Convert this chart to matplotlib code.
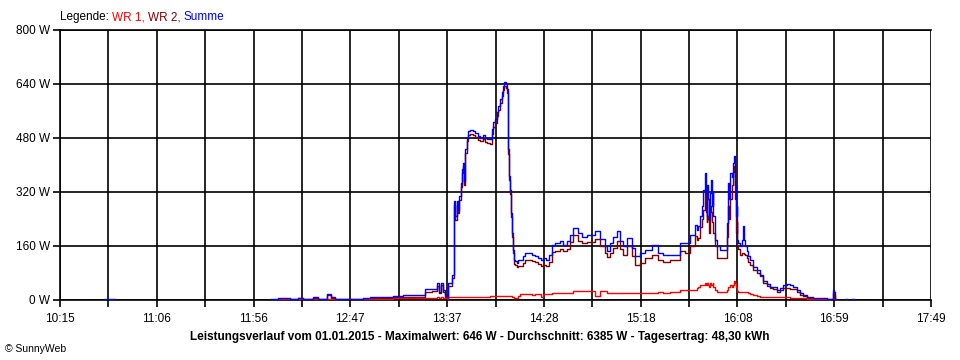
import numpy as np
import matplotlib
matplotlib.use("Agg")
import matplotlib.pyplot as plt

nan = float("nan")

# time in minutes since midnight
times = [638.5, 643.7, 643.8,
         725.0, 728.6, 734.9, 739.1, 741.7, 746.9, 749.5, 754.2, 756.3, 758.3,
         766.2, 772.9, 776.6, 781.8, 788.6, 793.8, 799.0, 802.6, 805.3, 808.9,
         811.5, 812.6, 813.6, 814.6, 815.7, 816.7, 817.5, 819.3, 820.4, 820.9,
         821.8, 822.6, 823.1, 823.9, 824.4, 825.2, 825.6, 826.1, 827.0, 827.8,
         828.7, 830.4, 831.3, 833.0, 833.9, 835.6, 836.5, 837.4, 839.1, 840.0,
         840.9, 841.7, 842.6, 843.5, 844.3, 845.2, 846.1, 846.6, 847.3, 847.8,
         848.4, 848.7, 849.2, 849.6, 850.1, 850.6, 851.3, 851.6, 852.2, 853.0,
         853.7, 854.8, 856.3, 857.4, 858.9, 861.0, 862.6, 864.2, 865.7, 866.8,
         868.3, 869.9, 871.5, 873.0, 875.6, 877.2, 879.3, 880.8, 882.4, 885.0,
         887.1, 889.7, 893.9, 896.5, 899.1, 900.1, 901.7, 903.2, 905.3, 906.9,
         908.5, 910.5, 913.2, 914.7, 917.3, 919.9, 923.6, 926.7, 929.3, 933.0,
         938.2, 940.8, 943.4, 946.0, 947.0, 947.7, 948.6, 949.5, 950.3, 951.2,
         951.7, 952.1, 952.4, 952.9, 953.4, 953.8, 954.3, 954.7, 955.2, 955.5,
         956.4, 957.3, 959.0, 961.6, 962.5, 963.3, 963.9, 964.2, 965.1, 965.6,
         966.3, 966.8, 967.4, 967.7, 968.0, 968.6, 969.4, 970.3, 971.2, 971.7,
         972.1, 972.9, 973.8, 974.7, 976.4, 978.2, 979.9, 981.6, 983.4, 985.1,
         986.8, 988.6, 990.3, 992.0, 993.8, 995.5, 997.2, 999.0, 1000.7, 1002.4,
         1004.2, 1005.9, 1007.7, 1011.1, 1014.6, 1017.4, 1017.9, 1018.4, 1019.0,
         1019.5, 1019.6,
         1024.0, 1025.0, 1025.1, 1028.0, 1029.0, 1029.1]

summe = [2, 2, nan,
         2, 5, 3, 7, 4, 8, 3, 18, 8, 4,
         3, 5, 10, 8, 13, 14, 16, 14, 32, 33,
         50, 25, 50, 30, 15, 8, 50, 74, 293, 248,
         293, 268, 307, 347, 387, 407, 352, 446, 481, 501,
         503, 500, 496, 485, 481, 490, 481, 476, 476, 506,
         526, 536, 556, 575, 595, 615, 635, 646, 640, 625,
         566, 446, 367, 327, 258, 198, 149, 119, 115, 109,
         119, 119, 129, 139, 139, 134, 129, 124, 119, 124,
         119, 134, 164, 169, 174, 164, 174, 194, 213, 198,
         188, 193, 203, 180, 159, 144, 169, 188, 203, 174,
         159, 184, 154, 129, 139, 149, 164, 139, 134, 134,
         169, 169, 194, 223, 208, 218, 248, 278, 327, 377,
         318, 248, 340, 298, 238, 318, 357, 278, 320, 248,
         179, 159, 149, 149, 228, 347, 300, 377, 365, 407,
         427, 340, 248, 280, 179, 170, 159, 179, 218, 179,
         159, 144, 129, 119, 99, 89, 74, 55, 47, 40,
         38, 30, 35, 45, 46, 45, 40, 30, 20, 15,
         10, 8, 6, 5, 4, 4, 30, 25, 2,
         2, nan,
         2, 2, nan, 2, 2, nan]

wr2 = [0, 0, nan,
       1, 3, 2, 5, 3, 5, 2, 15, 6, 3,
       2, 3, 6, 5, 8, 9, 10, 9, 24, 26,
       42, 20, 43, 24, 10, 4, 42, 65, 282, 238,
       282, 258, 296, 335, 376, 396, 340, 435, 470, 490,
       491, 488, 484, 474, 470, 478, 468, 465, 463, 493,
       514, 524, 544, 563, 583, 603, 623, 634, 628, 612,
       554, 434, 355, 315, 246, 186, 140, 108, 103, 98,
       102, 100, 110, 118, 120, 116, 112, 108, 100, 105,
       102, 114, 142, 146, 152, 146, 152, 172, 192, 176,
       168, 172, 182, 160, 138, 128, 139, 155, 174, 150,
       134, 159, 130, 104, 110, 124, 134, 119, 114, 119,
       144, 140, 159, 190, 179, 185, 215, 240, 268, 327,
       260, 230, 250, 240, 198, 278, 260, 230, 220, 198,
       159, 124, 124, 124, 188, 278, 240, 300, 340, 380,
       397, 300, 200, 230, 159, 150, 134, 138, 140, 136,
       134, 125, 114, 104, 89, 79, 70, 50, 42, 35,
       32, 25, 30, 35, 35, 34, 32, 24, 15, 12,
       7, 5, 4, 3, 3, 3, 20, 15, 1,
       1, nan,
       0, 0, nan, 0, 0, nan]

wr1 = [0, 0, nan,
       1, 2, 1, 2, 1, 2, 1, 3, 2, 1,
       1, 2, 4, 3, 5, 5, 6, 5, 7, 7,
       8, 6, 8, 7, 6, 5, 8, 9, 10, 10,
       10, 10, 10, 10, 10, 10, 10, 10, 10, 10,
       10, 10, 10, 10, 10, 10, 10, 10, 11, 11,
       11, 11, 12, 12, 12, 12, 12, 12, 12, 12,
       12, 12, 12, 12, 12, 10, 8, 6, 5, 5,
       12, 18, 18, 18, 18, 15, 18, 18, 8, 18,
       18, 18, 22, 22, 22, 22, 22, 22, 27, 27,
       27, 27, 12, 27, 27, 20, 22, 20, 20, 20,
       20, 20, 20, 20, 20, 20, 20, 25, 20, 25,
       30, 30, 30, 30, 35, 38, 45, 45, 45, 50,
       45, 45, 50, 45, 40, 50, 45, 45, 50, 40,
       30, 25, 25, 25, 30, 40, 40, 45, 40, 45,
       55, 50, 40, 35, 28, 25, 25, 25, 25, 25,
       24, 23, 20, 18, 15, 13, 10, 10, 9, 9,
       9, 8, 8, 8, 8, 7, 6, 6, 5, 5,
       4, 3, 2, 2, 1, 1, 2, 1, 0,
       0, nan,
       nan, nan, nan, nan, nan, nan]

y_ticks = [0, 160, 320, 480, 640, 800]
y_tick_labels = ["0 W", "160 W", "320 W", "480 W", "640 W", "800 W"]
x_start, x_end = 615, 1069
x_tick_labels = ["10:15", "11:06", "11:56", "12:47", "13:37",
                 "14:28", "15:18", "16:08", "16:59", "17:49"]

plt.rcParams['font.family'] = ['Liberation Sans', 'DejaVu Sans']

fig = plt.figure(figsize=(9.6, 3.6), dpi=100)
ax = fig.add_axes([60/960, (360-300)/360, (931-60)/960, (300-30)/360])

ax.plot(times, wr2, color="#800000", lw=1.0, drawstyle="steps-post", zorder=3)
ax.plot(times, wr1, color="#ff0000", lw=1.0, drawstyle="steps-post", zorder=3)
ax.plot(times, summe, color="#0000ff", lw=1.0, drawstyle="steps-post", zorder=4)

ax.set_xlim(x_start, x_end)
ax.set_ylim(0, 800)

xt = np.linspace(x_start, x_end, 19)
ax.set_xticks(xt)
labels = []
for i in range(19):
    labels.append(x_tick_labels[i // 2] if i % 2 == 0 else "")
ax.set_xticklabels(labels, fontsize=8.5)
ax.set_yticks(y_ticks)
ax.set_yticklabels(y_tick_labels, fontsize=8.5)

ax.tick_params(axis='x', length=5, width=1.2, pad=4, color='black')
ax.tick_params(axis='y', length=5, width=1.2, pad=2, color='black')
ax.grid(True, color='black', lw=1.2, zorder=1)
ax.set_axisbelow(True)
for s in ['left', 'bottom', 'top']:
    ax.spines[s].set_linewidth(1.2)
ax.spines['right'].set_visible(False)

# legend text
parts = [("Legende: ", "black"), ("WR 1, ", "#ff0000"), ("WR 2, ", "#800000"), ("Summe", "#0000ff")]
renderer = fig.canvas.get_renderer()
xpos = 60
for txt, col in parts:
    tt = fig.text(xpos/960, 1-17/360, txt, fontsize=8.5, color=col, va='center', ha='left')
    bb = tt.get_window_extent(renderer=renderer)
    xpos += bb.width

fig.text(480/960, 1-337/360,
         "Leistungsverlauf vom 01.01.2015 - Maximalwert: 646 W - Durchschnitt: 6385 W - Tagesertrag: 48,30 kWh",
         fontsize=8.5, fontweight='bold', ha='center', va='center')
fig.text(5/960, 1-349/360, "© SunnyWeb", fontsize=7.5, ha='left', va='center')

fig.savefig("out.png", dpi=100)
